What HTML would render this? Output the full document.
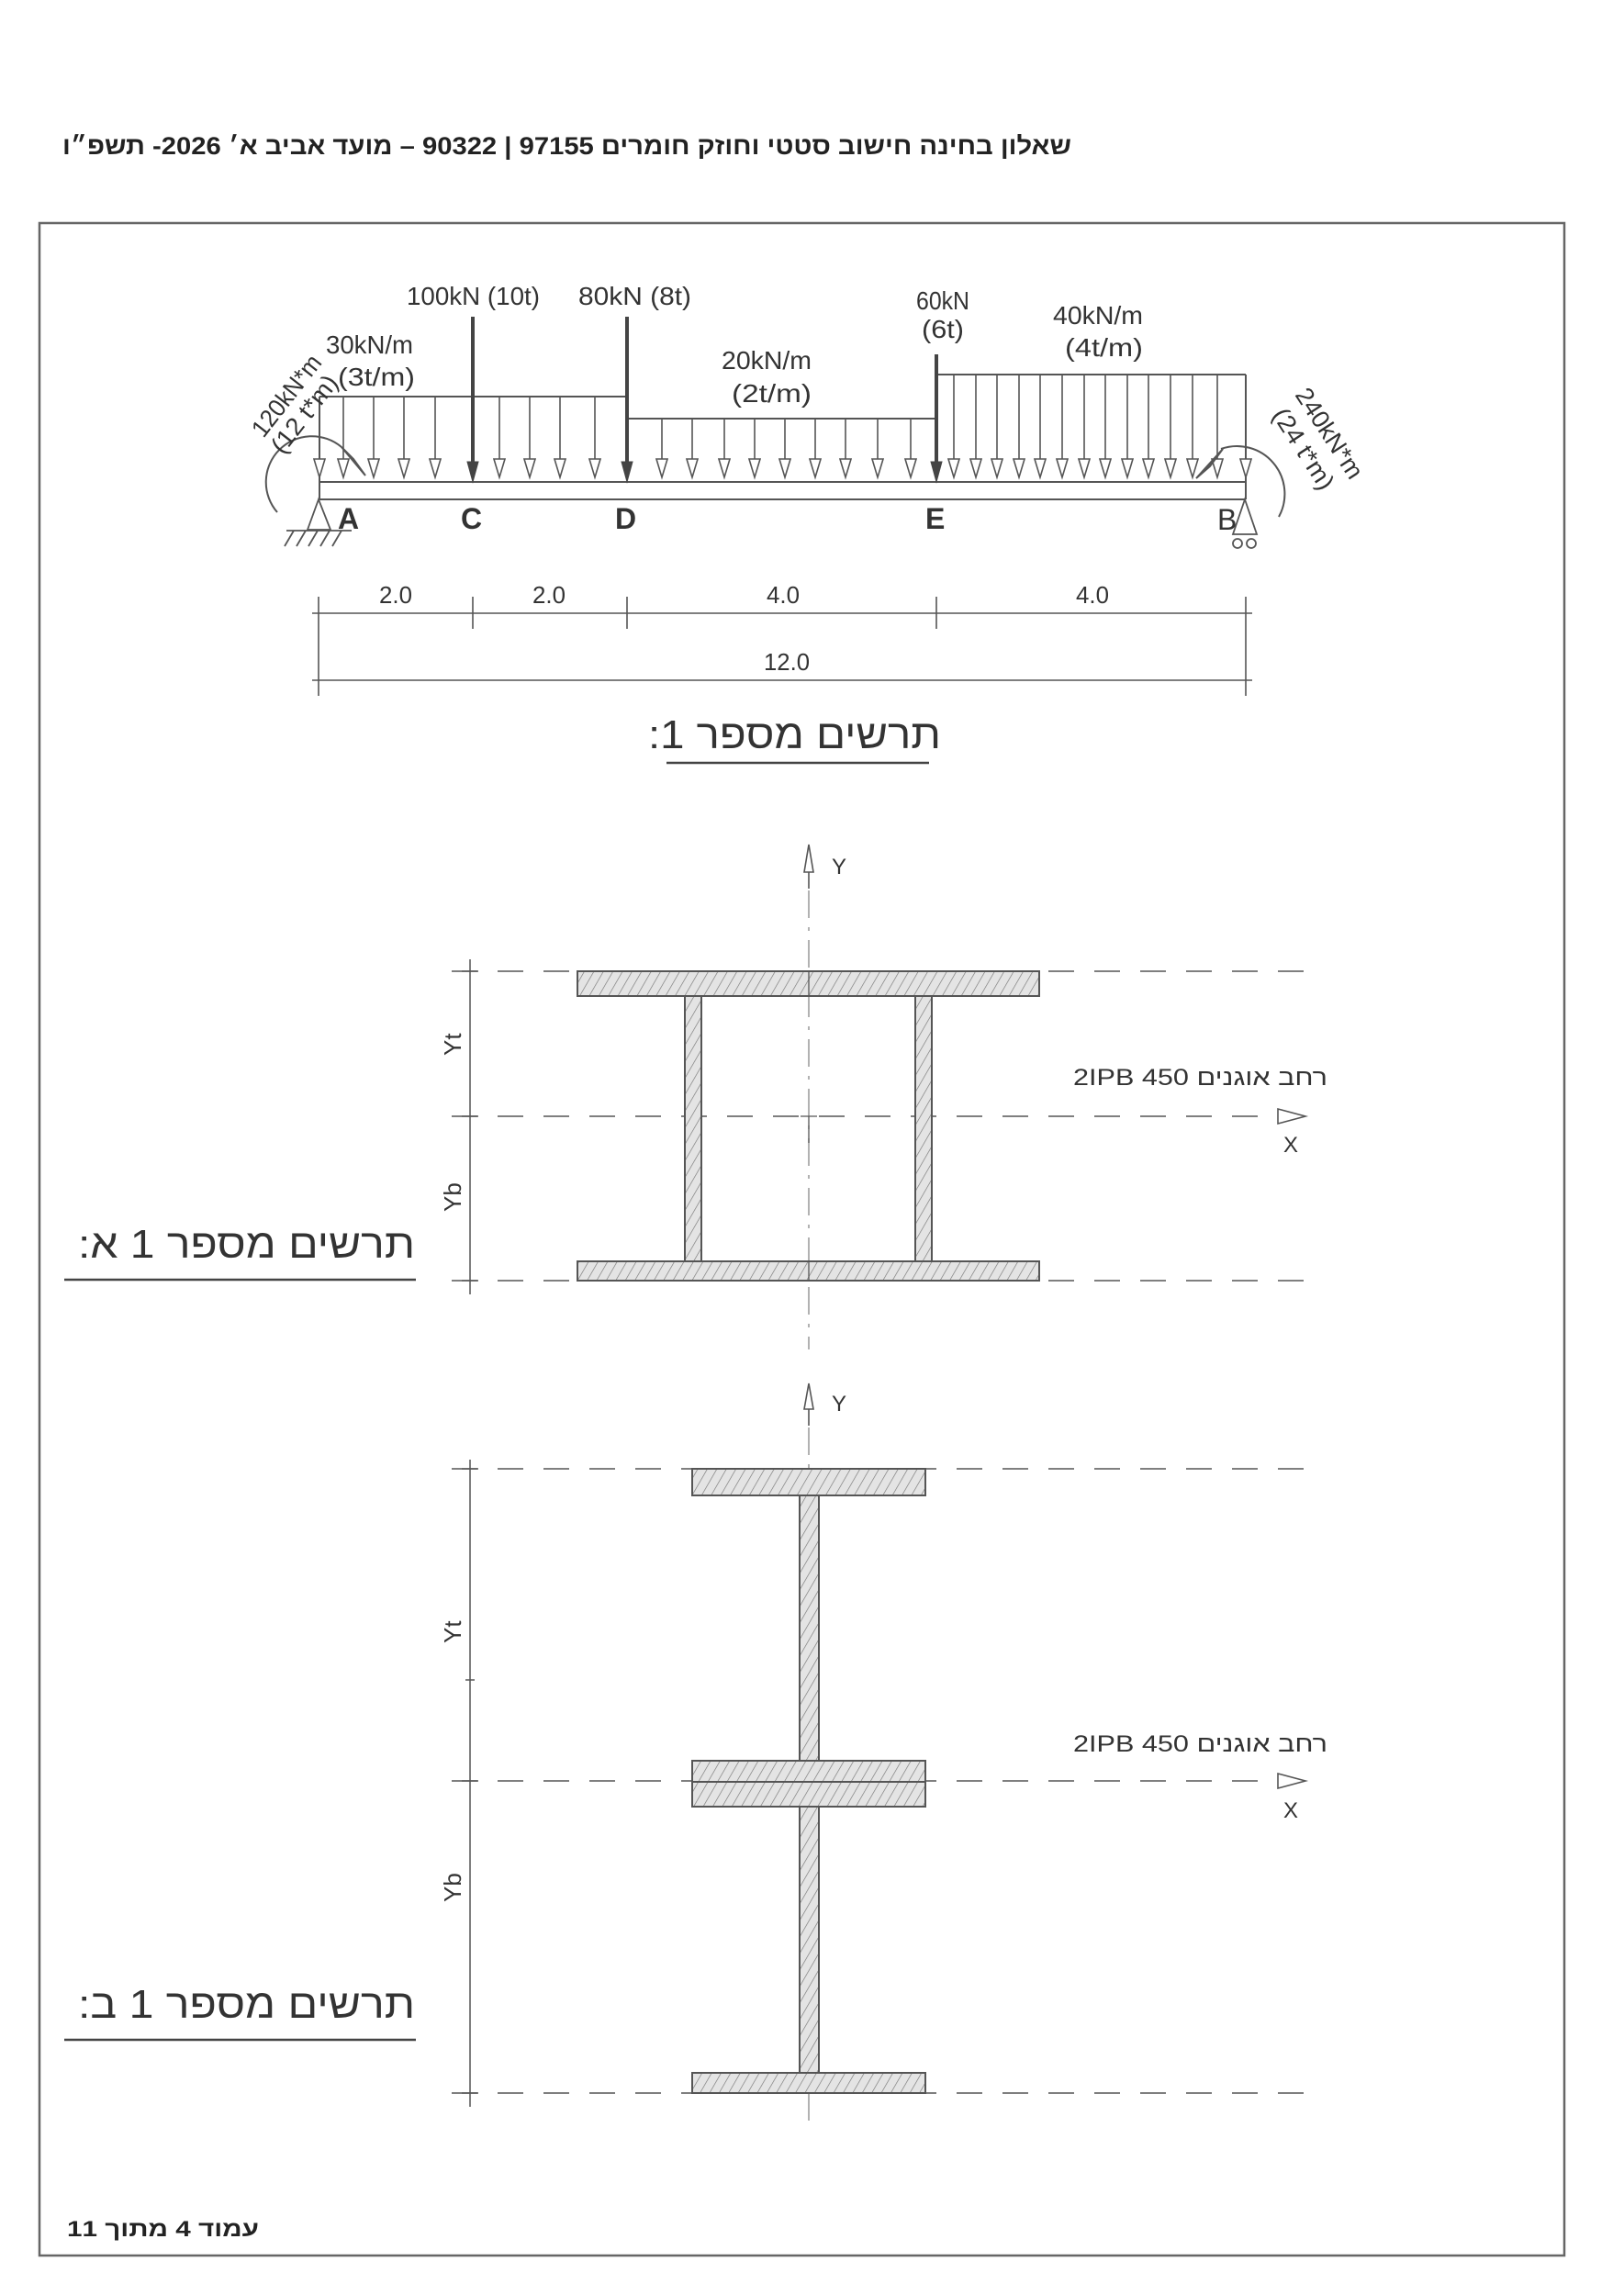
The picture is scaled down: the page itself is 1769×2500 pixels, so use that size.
<!DOCTYPE html>
<html><head><meta charset="utf-8"><style>
html,body{margin:0;padding:0;background:#fff;}
svg{display:block;}
.t{font-family:"Liberation Sans Narrow","Liberation Sans",sans-serif;fill:#333;}
.h{font-family:"Liberation Sans","DejaVu Sans",sans-serif;}
</style></head><body>
<svg width="1769" height="2500" viewBox="0 0 1769 2500" xmlns="http://www.w3.org/2000/svg">
<defs>
<pattern id="hat" width="9" height="9" patternUnits="userSpaceOnUse" patternTransform="rotate(30)">
<rect width="9" height="9" fill="#e4e4e4"/>
<line x1="0" y1="0" x2="0" y2="9" stroke="#777" stroke-width="1.3"/>
</pattern>
</defs>
<!-- header -->
<text class="h" x="1167" y="168" direction="rtl" text-anchor="start" font-size="27" font-weight="bold" fill="#222" textLength="1099" lengthAdjust="spacingAndGlyphs">שאלון בחינה חישוב סטטי וחוזק חומרים 97155 | 90322 – מועד אביב א׳ 2026- תשפ״ו</text>
<!-- frame -->
<rect x="43" y="243" width="1661" height="2214" fill="none" stroke="#666" stroke-width="2.5"/>
<!-- footer -->
<text class="h" x="282" y="2436" direction="rtl" text-anchor="start" font-size="24" font-weight="bold" fill="#222" textLength="209" lengthAdjust="spacingAndGlyphs">עמוד 4 מתוך 11</text>

<!-- ===== Beam diagram ===== -->
<g stroke="#555" fill="none" stroke-width="2">
<!-- beam -->
<line x1="348" y1="525" x2="1357" y2="525"/>
<line x1="348" y1="544" x2="1357" y2="544"/>
<line x1="348" y1="432" x2="348" y2="544"/>
<line x1="1357" y1="408" x2="1357" y2="544"/>
<!-- load outlines -->
<polyline points="348,432 684,432 684,456 1020,456 1020,408 1357,408"/>
</g>
<g stroke="#555" stroke-width="1.6" fill="#fff">
<!-- distributed arrows -->
<g id="arrs">
</g>
</g>
<g stroke="#555" stroke-width="1.6" fill="#fff">
<line x1="348" y1="432" x2="348" y2="500"/><polygon points="342,500 354,500 348,520"/>
<line x1="374" y1="432" x2="374" y2="500"/><polygon points="368,500 380,500 374,520"/>
<line x1="407" y1="432" x2="407" y2="500"/><polygon points="401,500 413,500 407,520"/>
<line x1="440" y1="432" x2="440" y2="500"/><polygon points="434,500 446,500 440,520"/>
<line x1="474" y1="432" x2="474" y2="500"/><polygon points="468,500 480,500 474,520"/>
<line x1="544" y1="432" x2="544" y2="500"/><polygon points="538,500 550,500 544,520"/>
<line x1="577" y1="432" x2="577" y2="500"/><polygon points="571,500 583,500 577,520"/>
<line x1="610" y1="432" x2="610" y2="500"/><polygon points="604,500 616,500 610,520"/>
<line x1="648" y1="432" x2="648" y2="500"/><polygon points="642,500 654,500 648,520"/>
<line x1="721" y1="456" x2="721" y2="500"/><polygon points="715,500 727,500 721,520"/>
<line x1="754" y1="456" x2="754" y2="500"/><polygon points="748,500 760,500 754,520"/>
<line x1="789" y1="456" x2="789" y2="500"/><polygon points="783,500 795,500 789,520"/>
<line x1="822" y1="456" x2="822" y2="500"/><polygon points="816,500 828,500 822,520"/>
<line x1="855" y1="456" x2="855" y2="500"/><polygon points="849,500 861,500 855,520"/>
<line x1="888" y1="456" x2="888" y2="500"/><polygon points="882,500 894,500 888,520"/>
<line x1="921" y1="456" x2="921" y2="500"/><polygon points="915,500 927,500 921,520"/>
<line x1="956" y1="456" x2="956" y2="500"/><polygon points="950,500 962,500 956,520"/>
<line x1="992" y1="456" x2="992" y2="500"/><polygon points="986,500 998,500 992,520"/>
<line x1="1039" y1="408" x2="1039" y2="500"/><polygon points="1033,500 1045,500 1039,520"/>
<line x1="1063" y1="408" x2="1063" y2="500"/><polygon points="1057,500 1069,500 1063,520"/>
<line x1="1086" y1="408" x2="1086" y2="500"/><polygon points="1080,500 1092,500 1086,520"/>
<line x1="1110" y1="408" x2="1110" y2="500"/><polygon points="1104,500 1116,500 1110,520"/>
<line x1="1133" y1="408" x2="1133" y2="500"/><polygon points="1127,500 1139,500 1133,520"/>
<line x1="1157" y1="408" x2="1157" y2="500"/><polygon points="1151,500 1163,500 1157,520"/>
<line x1="1181" y1="408" x2="1181" y2="500"/><polygon points="1175,500 1187,500 1181,520"/>
<line x1="1204" y1="408" x2="1204" y2="500"/><polygon points="1198,500 1210,500 1204,520"/>
<line x1="1228" y1="408" x2="1228" y2="500"/><polygon points="1222,500 1234,500 1228,520"/>
<line x1="1251" y1="408" x2="1251" y2="500"/><polygon points="1245,500 1257,500 1251,520"/>
<line x1="1275" y1="408" x2="1275" y2="500"/><polygon points="1269,500 1281,500 1275,520"/>
<line x1="1299" y1="408" x2="1299" y2="500"/><polygon points="1293,500 1305,500 1299,520"/>
<line x1="1326" y1="408" x2="1326" y2="500"/><polygon points="1320,500 1332,500 1326,520"/>
<line x1="1357" y1="408" x2="1357" y2="500"/><polygon points="1351,500 1363,500 1357,520"/>
</g>
<!-- point loads -->
<g stroke="#444" stroke-width="4" fill="#444">
<line x1="515" y1="345" x2="515" y2="505"/><polygon points="509,503 521,503 515,525" stroke-width="1"/>
<line x1="683" y1="345" x2="683" y2="505"/><polygon points="677,503 689,503 683,525" stroke-width="1"/>
<line x1="1020" y1="386" x2="1020" y2="505"/><polygon points="1014,503 1026,503 1020,525" stroke-width="1"/>
</g>
<!-- moments -->
<g stroke="#555" stroke-width="2" fill="none">
<path d="M 302 558 A 50 50 0 0 1 372 487"/>
<polygon points="372,487 398,518 385,500" fill="#555"/>
<path d="M 1330 489 A 52 52 0 0 1 1393 563"/>
<polygon points="1332,489 1303,521 1318,508" fill="#555"/>
</g>
<g class="t" font-size="27">
<text transform="translate(287,478) rotate(-52)" textLength="105" lengthAdjust="spacingAndGlyphs">120kN*m</text>
<text transform="translate(308,496) rotate(-52)" textLength="100" lengthAdjust="spacingAndGlyphs">(12 t*m)</text>
<text transform="translate(1410,430) rotate(57)" textLength="112" lengthAdjust="spacingAndGlyphs">240kN*m</text>
<text transform="translate(1385,452) rotate(57)" textLength="100" lengthAdjust="spacingAndGlyphs">(24 t*m)</text>
</g>
<!-- supports -->
<g stroke="#555" stroke-width="1.8" fill="none">
<polygon points="347,544 335,577 360,577"/>
<line x1="312" y1="578" x2="383" y2="578"/>
<line x1="320" y1="578" x2="310" y2="595"/><line x1="333" y1="578" x2="323" y2="595"/>
<line x1="346" y1="578" x2="336" y2="595"/><line x1="359" y1="578" x2="349" y2="595"/>
<line x1="372" y1="578" x2="362" y2="595"/>
<polygon points="1356,544 1343,582 1369,582"/>
<circle cx="1348" cy="592" r="5"/><circle cx="1363" cy="592" r="5"/>
</g>
<g class="t" font-size="32" font-weight="bold" fill="#333">
<text x="368" y="576">A</text>
<text x="502" y="576">C</text>
<text x="670" y="576">D</text>
<text x="1008" y="576">E</text>
<text x="1326" y="577" font-weight="normal">B</text>
</g>
<g class="t" font-size="28">
<text x="443" y="332" textLength="145" lengthAdjust="spacingAndGlyphs">100kN (10t)</text>
<text x="630" y="332" textLength="123" lengthAdjust="spacingAndGlyphs">80kN (8t)</text>
<text x="355" y="385" textLength="95" lengthAdjust="spacingAndGlyphs">30kN/m</text>
<text x="368" y="420" textLength="84" lengthAdjust="spacingAndGlyphs">(3t/m)</text>
<text x="786" y="402" textLength="98" lengthAdjust="spacingAndGlyphs">20kN/m</text>
<text x="797" y="438" textLength="87" lengthAdjust="spacingAndGlyphs">(2t/m)</text>
<text x="998" y="337" textLength="58" lengthAdjust="spacingAndGlyphs">60kN</text>
<text x="1004" y="368" textLength="46" lengthAdjust="spacingAndGlyphs">(6t)</text>
<text x="1147" y="353" textLength="98" lengthAdjust="spacingAndGlyphs">40kN/m</text>
<text x="1160" y="388" textLength="85" lengthAdjust="spacingAndGlyphs">(4t/m)</text>
</g>
<!-- dimensions -->
<g stroke="#555" stroke-width="1.6">
<line x1="347" y1="650" x2="347" y2="758"/>
<line x1="1357" y1="650" x2="1357" y2="758"/>
<line x1="515" y1="650" x2="515" y2="685"/>
<line x1="683" y1="650" x2="683" y2="685"/>
<line x1="1020" y1="650" x2="1020" y2="685"/>
<line x1="340" y1="668" x2="1364" y2="668"/>
<line x1="340" y1="741" x2="1364" y2="741"/>
</g>
<g class="t" font-size="26">
<text x="413" y="657" textLength="36" lengthAdjust="spacingAndGlyphs">2.0</text>
<text x="580" y="657" textLength="36" lengthAdjust="spacingAndGlyphs">2.0</text>
<text x="835" y="657" textLength="36" lengthAdjust="spacingAndGlyphs">4.0</text>
<text x="1172" y="657" textLength="36" lengthAdjust="spacingAndGlyphs">4.0</text>
<text x="832" y="730" textLength="50" lengthAdjust="spacingAndGlyphs">12.0</text>
</g>
<text class="h" x="1025" y="815" direction="rtl" text-anchor="start" font-size="44" fill="#333" textLength="319" lengthAdjust="spacingAndGlyphs">תרשים מספר 1:</text>
<line x1="726" y1="831" x2="1012" y2="831" stroke="#444" stroke-width="2.5"/>

<!-- ===== Section 1a ===== -->
<g stroke="#999" stroke-width="1.5" stroke-dasharray="30 10 4 10">
<line x1="881" y1="970" x2="881" y2="1470"/>
</g>
<g stroke="#555" stroke-width="1.6" fill="#fff">
<line x1="881" y1="968" x2="881" y2="950"/>
<polygon points="876,950 886,950 881,920"/>
</g>
<text class="t" x="906" y="952" font-size="24">Y</text>
<g stroke="#555" stroke-width="1.5" stroke-dasharray="28 22">
<line x1="492" y1="1058" x2="1422" y2="1058"/>
<line x1="492" y1="1216" x2="1390" y2="1216"/>
<line x1="492" y1="1395" x2="1422" y2="1395"/>
</g>
<polygon points="1392,1208 1392,1224 1422,1216" fill="#fff" stroke="#555" stroke-width="1.6"/>
<text class="t" x="1398" y="1255" font-size="24">X</text>
<g stroke="#555" stroke-width="1.5">
<line x1="512" y1="1045" x2="512" y2="1410"/>
<line x1="503" y1="1058" x2="521" y2="1058"/>
<line x1="503" y1="1216" x2="521" y2="1216"/>
<line x1="503" y1="1395" x2="521" y2="1395"/>
</g>
<text class="t" transform="translate(502,1150) rotate(-90)" font-size="26">Yt</text>
<text class="t" transform="translate(502,1320) rotate(-90)" font-size="26">Yb</text>
<g fill="url(#hat)" stroke="#555" stroke-width="2">
<rect x="629" y="1058" width="503" height="27"/>
<rect x="746" y="1085" width="18" height="289"/>
<rect x="997" y="1085" width="18" height="289"/>
<rect x="629" y="1374" width="503" height="21"/>
</g>
<line x1="881" y1="1058" x2="881" y2="1085" stroke="#555" stroke-width="1.3"/>
<line x1="881" y1="1374" x2="881" y2="1395" stroke="#555" stroke-width="1.3"/>
<line x1="881" y1="1216" x2="881" y2="1245" stroke="#555" stroke-width="1.3"/>
<line x1="872" y1="1216" x2="890" y2="1216" stroke="#555" stroke-width="1.3"/>
<text class="h" x="1446" y="1182" direction="rtl" text-anchor="start" font-size="25" fill="#333" textLength="277" lengthAdjust="spacingAndGlyphs">רחב אוגנים 2IPB 450</text>
<text class="h" x="452" y="1370" direction="rtl" text-anchor="start" font-size="44" fill="#333" textLength="367" lengthAdjust="spacingAndGlyphs">תרשים מספר 1 א:</text>
<line x1="70" y1="1394" x2="453" y2="1394" stroke="#444" stroke-width="2.5"/>

<!-- ===== Section 1b ===== -->
<g stroke="#999" stroke-width="1.5" stroke-dasharray="30 10 4 10">
<line x1="881" y1="1555" x2="881" y2="1600"/>
<line x1="881" y1="2280" x2="881" y2="2310"/>
</g>
<g stroke="#555" stroke-width="1.6" fill="#fff">
<line x1="881" y1="1553" x2="881" y2="1535"/>
<polygon points="876,1535 886,1535 881,1507"/>
</g>
<text class="t" x="906" y="1537" font-size="24">Y</text>
<g stroke="#555" stroke-width="1.5" stroke-dasharray="28 22">
<line x1="492" y1="1600" x2="1422" y2="1600"/>
<line x1="492" y1="1940" x2="1390" y2="1940"/>
<line x1="492" y1="2280" x2="1422" y2="2280"/>
</g>
<polygon points="1392,1932 1392,1948 1422,1940" fill="#fff" stroke="#555" stroke-width="1.6"/>
<text class="t" x="1398" y="1980" font-size="24">X</text>
<g stroke="#555" stroke-width="1.5">
<line x1="512" y1="1590" x2="512" y2="2295"/>
<line x1="503" y1="1600" x2="521" y2="1600"/>
<line x1="507" y1="1830" x2="517" y2="1830"/>
<line x1="503" y1="1940" x2="521" y2="1940"/>
<line x1="503" y1="2280" x2="521" y2="2280"/>
</g>
<text class="t" transform="translate(502,1790) rotate(-90)" font-size="26">Yt</text>
<text class="t" transform="translate(502,2072) rotate(-90)" font-size="26">Yb</text>
<g fill="url(#hat)" stroke="#555" stroke-width="2">
<rect x="871" y="1629" width="21" height="289"/>
<rect x="871" y="1968" width="21" height="290"/>
<rect x="754" y="1600" width="254" height="29"/>
<rect x="754" y="1918" width="254" height="23"/>
<rect x="754" y="1941" width="254" height="27"/>
<rect x="754" y="2258" width="254" height="22"/>
</g>
<text class="h" x="1446" y="1908" direction="rtl" text-anchor="start" font-size="25" fill="#333" textLength="277" lengthAdjust="spacingAndGlyphs">רחב אוגנים 2IPB 450</text>
<text class="h" x="452" y="2198" direction="rtl" text-anchor="start" font-size="44" fill="#333" textLength="367" lengthAdjust="spacingAndGlyphs">תרשים מספר 1 ב:</text>
<line x1="70" y1="2222" x2="453" y2="2222" stroke="#444" stroke-width="2.5"/>
</svg>
</body></html>
